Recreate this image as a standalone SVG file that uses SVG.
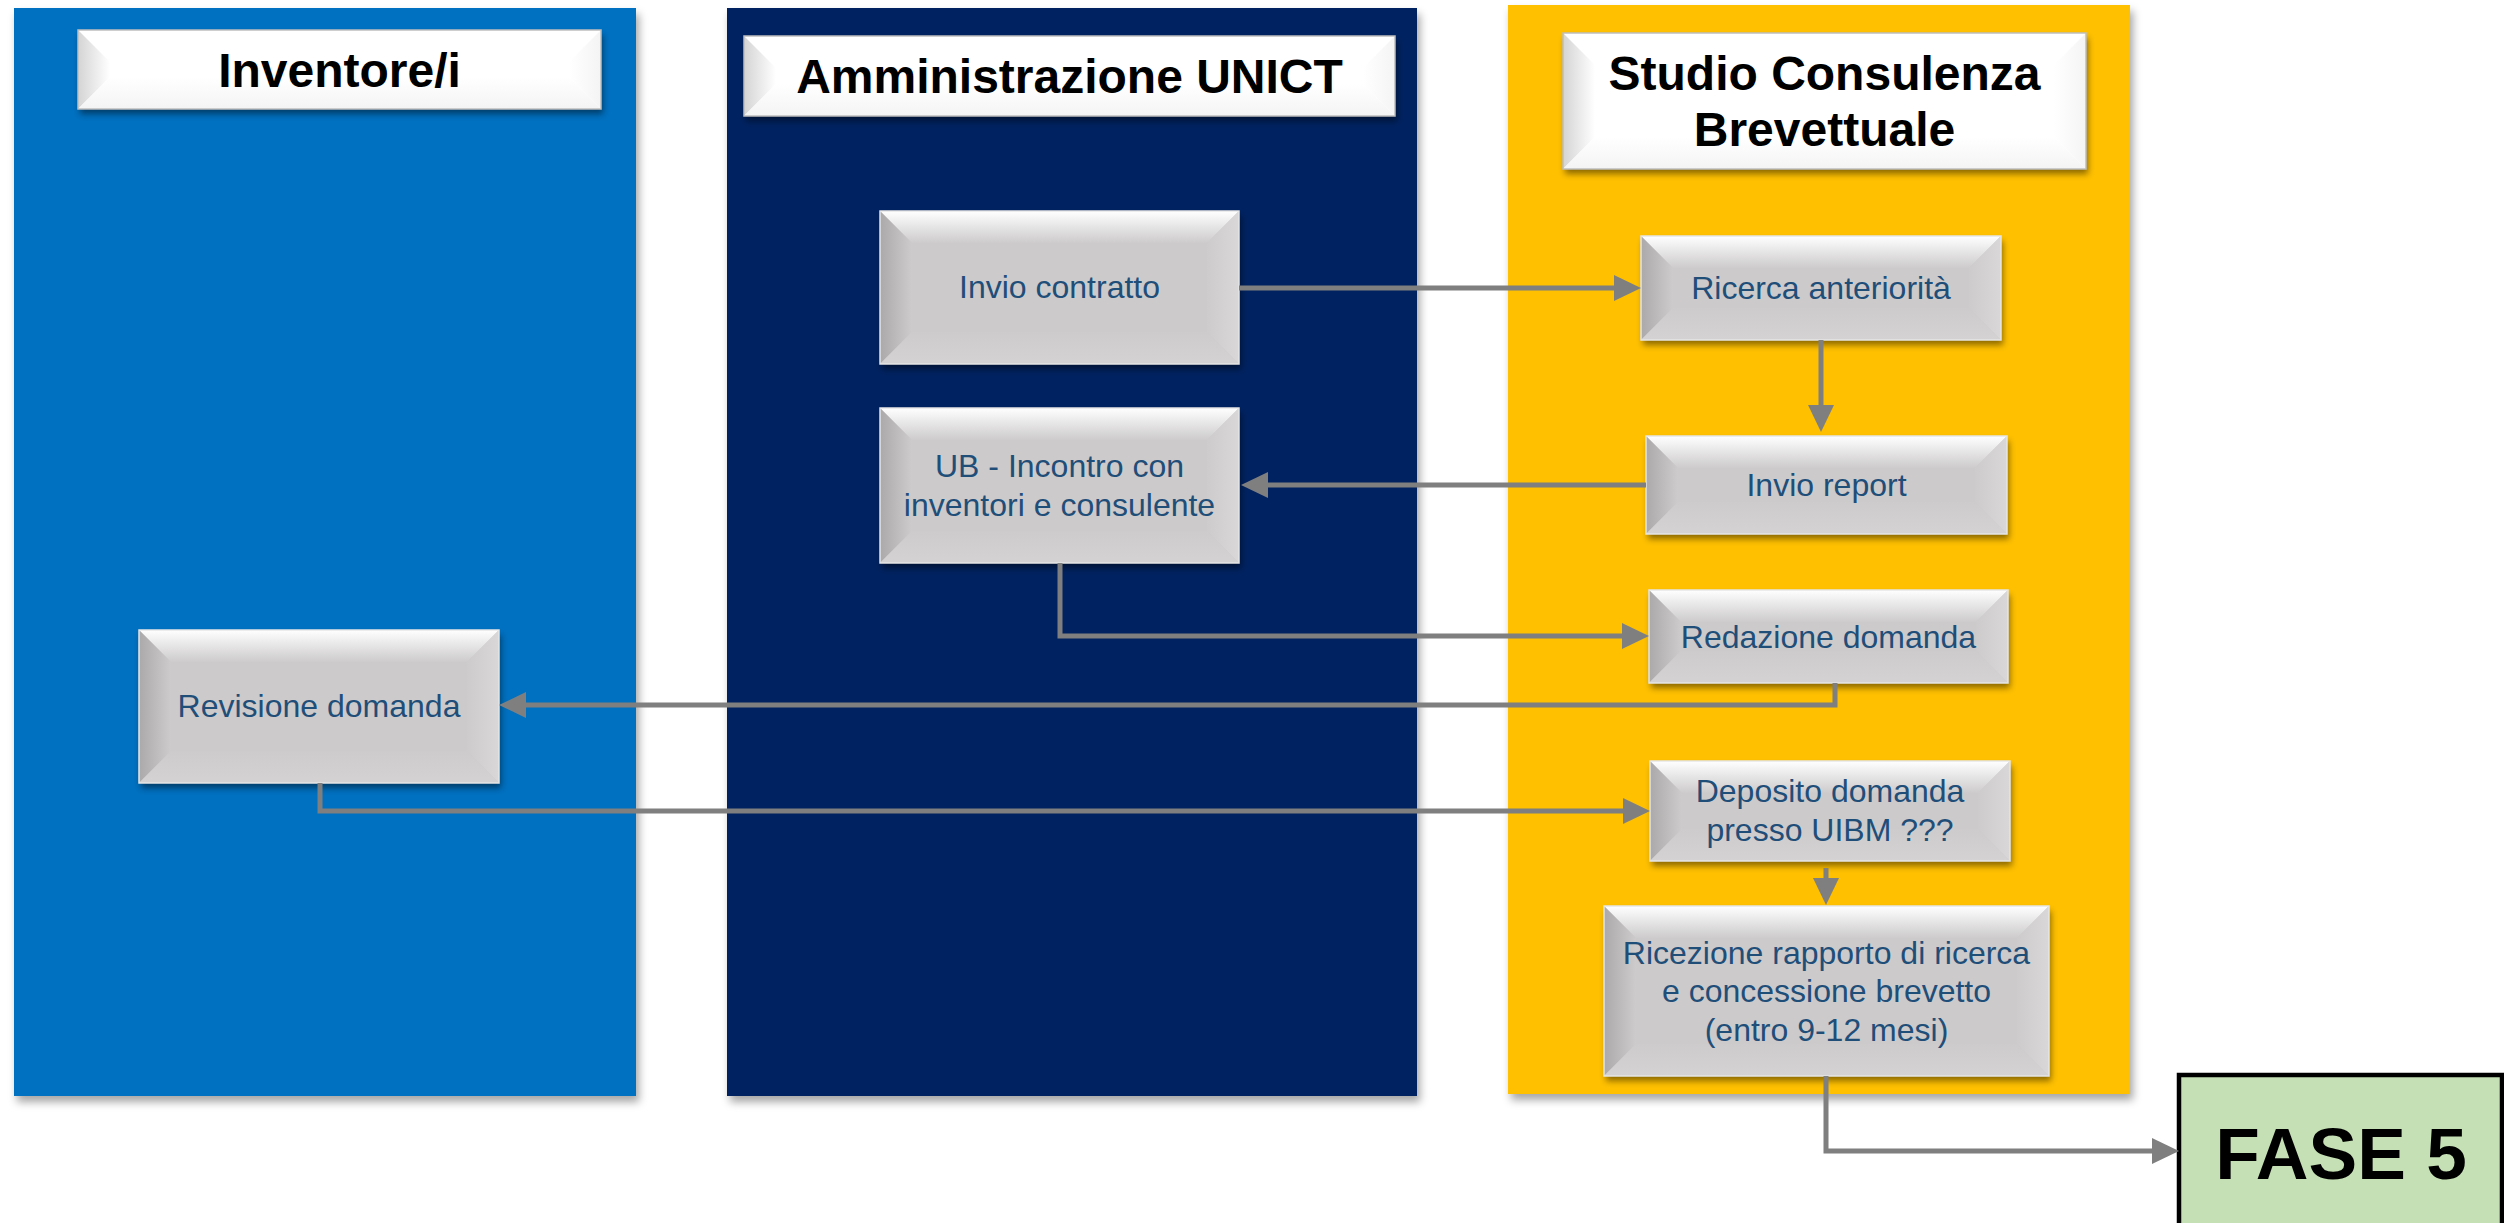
<svg xmlns="http://www.w3.org/2000/svg" width="2504" height="1223" viewBox="0 0 2504 1223">
<style>
.lane{filter:url(#laneShadow)}
.bx{filter:url(#boxShadow)}
.pm{fill:#CCCACB}
.pt{fill:url(#pTop)}
.pl{fill:url(#pLeft)}
.pr{fill:url(#pRight)}
.pb{fill:url(#pBottom)}
.pe{fill:none;stroke:#E6E6E6;stroke-width:1.5}
.hm{fill:#FFFFFF}
.hl{fill:url(#hLeft)}
.hr{fill:url(#hRight)}
.hb{fill:url(#hBottom)}
.he{fill:none;stroke:#BFBFBF;stroke-width:1.5}
.ptxt{font-family:"Liberation Sans",Arial,sans-serif;font-size:32px;fill:#1F4E79;text-anchor:middle}
.htxt{font-family:"Liberation Sans",Arial,sans-serif;font-size:48px;font-weight:bold;fill:#000;text-anchor:middle}
.conn path{fill:none;stroke:#7F7F7F;stroke-width:5;marker-end:url(#arr)}
</style>
<defs>
<filter id="laneShadow" x="-5%" y="-5%" width="115%" height="115%">
<feDropShadow dx="3" dy="6" stdDeviation="4" flood-color="#000" flood-opacity="0.35"/>
</filter>
<filter id="boxShadow" x="-10%" y="-10%" width="125%" height="130%">
<feDropShadow dx="2" dy="5" stdDeviation="3" flood-color="#000" flood-opacity="0.45"/>
</filter>
<linearGradient id="pTop" x1="0" y1="0" x2="0" y2="1">
<stop offset="0" stop-color="#FFFFFF"/><stop offset="1" stop-color="#CDCBCC"/>
</linearGradient>
<linearGradient id="pLeft" x1="0" y1="0" x2="1" y2="0">
<stop offset="0" stop-color="#ABA9AA"/><stop offset="1" stop-color="#CDCBCC"/>
</linearGradient>
<linearGradient id="pRight" x1="0" y1="0" x2="1" y2="0">
<stop offset="0" stop-color="#CDCBCC"/><stop offset="1" stop-color="#D9D7D8"/>
</linearGradient>
<linearGradient id="pBottom" x1="0" y1="0" x2="0" y2="1">
<stop offset="0" stop-color="#CDCBCC"/><stop offset="1" stop-color="#D4D2D3"/>
</linearGradient>
<linearGradient id="hLeft" x1="0" y1="0" x2="1" y2="0">
<stop offset="0" stop-color="#D4D4D4"/><stop offset="1" stop-color="#FFFFFF"/>
</linearGradient>
<linearGradient id="hRight" x1="0" y1="0" x2="1" y2="0">
<stop offset="0" stop-color="#FFFFFF"/><stop offset="1" stop-color="#F4F4F4"/>
</linearGradient>
<linearGradient id="hBottom" x1="0" y1="0" x2="0" y2="1">
<stop offset="0" stop-color="#FFFFFF"/><stop offset="1" stop-color="#F4F4F4"/>
</linearGradient>
<marker id="arr" viewBox="0 0 27 26" markerWidth="27" markerHeight="26" refX="2" refY="13" orient="auto" markerUnits="userSpaceOnUse">
<path d="M0,0 L27,13 L0,26 z" fill="#7F7F7F"/>
</marker>
</defs>

<rect width="2504" height="1223" fill="#FFFFFF"/>

<g id="lane-inventori">
<rect class="lane" x="14" y="8" width="622" height="1088" fill="#0070C0"/>
</g>
<g id="lane-amministrazione">
<rect class="lane" x="727" y="8" width="690" height="1088" fill="#002060"/>
</g>
<g id="lane-studio">
<rect class="lane" x="1508" y="5" width="622" height="1089" fill="#FFC000"/>
</g>

<g id="hdr-inventore" transform="translate(78,30)">
<g class="bx"><rect class="hm" width="523" height="79"/></g>
<polygon class="hl" points="0,0 32,32 32,47 0,79"/>
<polygon class="hr" points="523,0 523,79 491,47 491,32"/>
<polygon class="hb" points="0,79 32,47 491,47 523,79"/>
<rect class="he" width="523" height="79"/>
<text class="htxt" x="261.5" y="57">Inventore/i</text>
</g>

<g id="hdr-amministrazione" transform="translate(744,36)">
<g class="bx"><rect class="hm" width="651" height="80"/></g>
<polygon class="hl" points="0,0 32,32 32,48 0,80"/>
<polygon class="hr" points="651,0 651,80 619,48 619,32"/>
<polygon class="hb" points="0,80 32,48 619,48 651,80"/>
<rect class="he" width="651" height="80"/>
<text class="htxt" x="325.5" y="57">Amministrazione UNICT</text>
</g>

<g id="hdr-studio" transform="translate(1563,33)">
<g class="bx"><rect class="hm" width="523" height="136"/></g>
<polygon class="hl" points="0,0 32,32 32,104 0,136"/>
<polygon class="hr" points="523,0 523,136 491,104 491,32"/>
<polygon class="hb" points="0,136 32,104 491,104 523,136"/>
<rect class="he" width="523" height="136"/>
<text class="htxt" x="261.5" y="57">Studio Consulenza</text>
<text class="htxt" x="261.5" y="113">Brevettuale</text>
</g>

<g id="node-invio-contratto" transform="translate(880,211)">
<g class="bx"><rect class="pm" width="359" height="153"/></g>
<polygon class="pt" points="0,0 359,0 327,32 32,32"/>
<polygon class="pl" points="0,0 32,32 32,121 0,153"/>
<polygon class="pr" points="359,0 359,153 327,121 327,32"/>
<polygon class="pb" points="0,153 32,121 327,121 359,153"/>
<rect class="pe" width="359" height="153"/>
<text class="ptxt" x="179.5" y="87">Invio contratto</text>
</g>

<g id="node-ub-incontro" transform="translate(880,408)">
<g class="bx"><rect class="pm" width="359" height="155"/></g>
<polygon class="pt" points="0,0 359,0 327,32 32,32"/>
<polygon class="pl" points="0,0 32,32 32,123 0,155"/>
<polygon class="pr" points="359,0 359,155 327,123 327,32"/>
<polygon class="pb" points="0,155 32,123 327,123 359,155"/>
<rect class="pe" width="359" height="155"/>
<text class="ptxt" x="179.5" y="69">UB - Incontro con</text>
<text class="ptxt" x="179.5" y="108">inventori e consulente</text>
</g>

<g id="node-ricerca" transform="translate(1641,236)">
<g class="bx"><rect class="pm" width="360" height="104"/></g>
<polygon class="pt" points="0,0 360,0 328,32 32,32"/>
<polygon class="pl" points="0,0 32,32 32,72 0,104"/>
<polygon class="pr" points="360,0 360,104 328,72 328,32"/>
<polygon class="pb" points="0,104 32,72 328,72 360,104"/>
<rect class="pe" width="360" height="104"/>
<text class="ptxt" x="180" y="63">Ricerca anteriorità</text>
</g>

<g id="node-invio-report" transform="translate(1646,436)">
<g class="bx"><rect class="pm" width="361" height="98"/></g>
<polygon class="pt" points="0,0 361,0 329,32 32,32"/>
<polygon class="pl" points="0,0 32,32 32,66 0,98"/>
<polygon class="pr" points="361,0 361,98 329,66 329,32"/>
<polygon class="pb" points="0,98 32,66 329,66 361,98"/>
<rect class="pe" width="361" height="98"/>
<text class="ptxt" x="180.5" y="60">Invio report</text>
</g>

<g id="node-redazione" transform="translate(1649,590)">
<g class="bx"><rect class="pm" width="359" height="93"/></g>
<polygon class="pt" points="0,0 359,0 327,32 32,32"/>
<polygon class="pl" points="0,0 32,32 32,61 0,93"/>
<polygon class="pr" points="359,0 359,93 327,61 327,32"/>
<polygon class="pb" points="0,93 32,61 327,61 359,93"/>
<rect class="pe" width="359" height="93"/>
<text class="ptxt" x="179.5" y="58">Redazione domanda</text>
</g>

<g id="node-deposito" transform="translate(1650,761)">
<g class="bx"><rect class="pm" width="360" height="100"/></g>
<polygon class="pt" points="0,0 360,0 328,32 32,32"/>
<polygon class="pl" points="0,0 32,32 32,68 0,100"/>
<polygon class="pr" points="360,0 360,100 328,68 328,32"/>
<polygon class="pb" points="0,100 32,68 328,68 360,100"/>
<rect class="pe" width="360" height="100"/>
<text class="ptxt" x="180" y="41">Deposito domanda</text>
<text class="ptxt" x="180" y="80">presso UIBM ???</text>
</g>

<g id="node-ricezione" transform="translate(1604,906)">
<g class="bx"><rect class="pm" width="445" height="170"/></g>
<polygon class="pt" points="0,0 445,0 413,32 32,32"/>
<polygon class="pl" points="0,0 32,32 32,138 0,170"/>
<polygon class="pr" points="445,0 445,170 413,138 413,32"/>
<polygon class="pb" points="0,170 32,138 413,138 445,170"/>
<rect class="pe" width="445" height="170"/>
<text class="ptxt" x="222.5" y="57.5">Ricezione rapporto di ricerca</text>
<text class="ptxt" x="222.5" y="96">e concessione brevetto</text>
<text class="ptxt" x="222.5" y="134.5">(entro 9-12 mesi)</text>
</g>

<g id="node-revisione" transform="translate(139,630)">
<g class="bx"><rect class="pm" width="360" height="153"/></g>
<polygon class="pt" points="0,0 360,0 328,32 32,32"/>
<polygon class="pl" points="0,0 32,32 32,121 0,153"/>
<polygon class="pr" points="360,0 360,153 328,121 328,32"/>
<polygon class="pb" points="0,153 32,121 328,121 360,153"/>
<rect class="pe" width="360" height="153"/>
<text class="ptxt" x="180" y="87">Revisione domanda</text>
</g>

<g id="node-fase5">
<rect x="2179" y="1075" width="323" height="160" fill="#C5E0B4" stroke="#000000" stroke-width="4.5"/>
<text x="2341" y="1179" font-family="'Liberation Sans',Arial,sans-serif" font-size="73" font-weight="bold" fill="#000" text-anchor="middle">FASE 5</text>
</g>

<g id="connectors" class="conn">
<path d="M1239,288 H1616"/>
<path d="M1821,340 V407"/>
<path d="M1646,485 H1266"/>
<path d="M1060,563 V636 H1624"/>
<path d="M1835,683 V705 H524"/>
<path d="M320,783 V811 H1625"/>
<path d="M1826,868 V880"/>
<path d="M1826,1076 V1151 H2154"/>
</g>
</svg>
